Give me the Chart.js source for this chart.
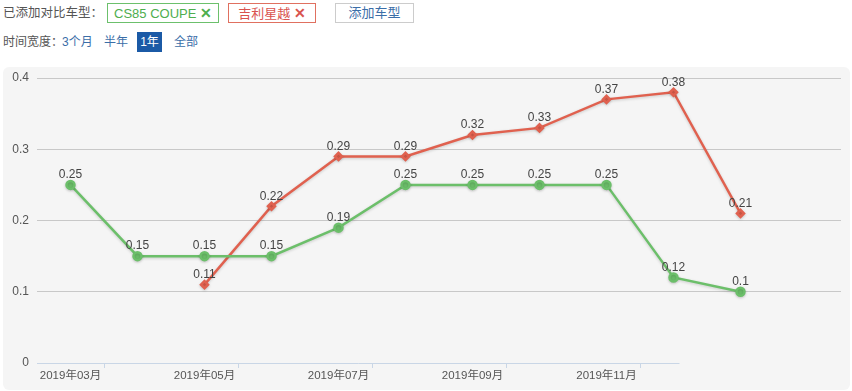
<!DOCTYPE html>
<html>
<head>
<meta charset="utf-8">
<script src="https://cdn.jsdelivr.net/npm/chart.js@4/dist/chart.umd.min.js"></script>
<style>
    body { margin: 0; background: #fff; font-family: "Liberation Sans", "Noto Sans CJK SC", sans-serif; width: 852px; height: 391px; overflow: hidden; position: relative; }
    .row1 { position: absolute; left: 3px; top: 3px; height: 20px; font-size: 12.5px; color: #555; }
    .row1 span { position: absolute; white-space: nowrap; line-height: 18px; }
    .tag { border: 1px solid; box-sizing: border-box; height: 20px; text-align: center; font-size: 13px; }
    .row2 { position: absolute; left: 3px; top: 32px; font-size: 12px; color: #555; }
    .row2 span { position: absolute; white-space: nowrap; line-height: 20px; top: 0; }
    .blue { color: #3b6ea8; }
    .panel { position: absolute; left: 3px; top: 67px; width: 847px; height: 323px; background: #f5f5f5; border-radius: 6px; }
</style>
</head>
<body>

<div class="row1">
    <span style="left:0;top:1px;">已添加对比车型：</span>
    <span class="tag" style="left:104px;top:0;width:112px;border-color:#6cc06c;color:#4eae4e;">CS85 COUPE <b style="font-weight:bold;font-size:14px;">✕</b></span>
    <span class="tag" style="left:225px;top:0;width:88px;border-color:#e07060;color:#d9534f;">吉利星越 <b style="font-weight:bold;font-size:14px;">✕</b></span>
    <span class="tag" style="left:332px;top:0;width:79px;border-color:#ccc;color:#3b6ea8;">添加车型</span>
</div>

<div class="row2">
    <span style="left:0;">时间宽度：</span>
    <span class="blue" style="left:59px;">3个月</span>
    <span class="blue" style="left:101px;">半年</span>
    <span style="left:134px;width:25px;text-align:center;background:#1b5aa6;color:#fff;">1年</span>
    <span class="blue" style="left:171px;">全部</span>
</div>

<div class="panel">
    <canvas id="chart" width="847" height="323"></canvas>
</div>

<script>
/* =====================================
   Chart data
===================================== */
const months = ["2019年03月", "2019年04月", "2019年05月", "2019年06月", "2019年07月", "2019年08月",
    "2019年09月", "2019年10月", "2019年11月", "2019年12月", "2020年01月", "2020年02月"];
const cs85Values = [0.25, 0.15, 0.15, 0.15, 0.19, 0.25, 0.25, 0.25, 0.25, 0.12, 0.1, null];
const xingyueValues = [null, null, 0.11, 0.22, 0.29, 0.29, 0.32, 0.33, 0.37, 0.38, 0.21, null];
const yTicks = [0, 0.1, 0.2, 0.3, 0.4];

const greenColor = "#6cbf6a";
const redColor = "#e0614f";


/* =====================================
   Plugins: value labels, shadow, axis line
===================================== */
const valueLabels = {
    id: "valueLabels",
    afterDatasetsDraw(chart) {
        const ctx = chart.ctx;
        ctx.save();
        ctx.font = "12px 'Liberation Sans', 'DejaVu Sans', sans-serif";
        ctx.fillStyle = "#444";
        ctx.textAlign = "center";
        ctx.textBaseline = "bottom";
        chart.data.datasets.forEach((ds, i) => {
            chart.getDatasetMeta(i).data.forEach((pt, j) => {
                if (ds.data[j] === null) return;
                ctx.fillText(String(ds.data[j]), pt.x, pt.y - 4);
            });
        });
        ctx.restore();
    }
};

const lineShadow = {
    id: "lineShadow",
    beforeDatasetDraw(chart) {
        chart.ctx.save();
        chart.ctx.shadowColor = "rgba(0,0,0,0.18)";
        chart.ctx.shadowBlur = 3;
        chart.ctx.shadowOffsetY = 1;
    },
    afterDatasetDraw(chart) {
        chart.ctx.restore();
    }
};

const axisLine = {
    id: "axisLine",
    beforeDatasetsDraw(chart) {
        const x = chart.scales.x;
        const y = chart.scales.y;
        const ctx = chart.ctx;
        const bottom = y.getPixelForValue(0);
        ctx.save();
        ctx.strokeStyle = "#c9d6e6";
        ctx.lineWidth = 1;
        ctx.beginPath();
        ctx.moveTo(chart.chartArea.left, bottom + 0.5);
        ctx.lineTo(x.getPixelForValue(9) + 6, bottom + 0.5);
        ctx.stroke();
        ctx.restore();
    }
};


/* =====================================
   Chart
===================================== */
new Chart(document.getElementById("chart"), {
    type: "line",
    data: {
        labels: months,
        datasets: [
            {
                label: "CS85 COUPE",
                data: cs85Values,
                borderColor: greenColor,
                backgroundColor: greenColor,
                borderWidth: 2.5,
                pointRadius: 4,
                pointStyle: "circle",
                tension: 0
            },
            {
                label: "吉利星越",
                data: xingyueValues,
                borderColor: redColor,
                backgroundColor: redColor,
                borderWidth: 2.5,
                pointRadius: 3.5,
                pointStyle: "rectRot",
                tension: 0
            }
        ]
    },
    options: {
        responsive: false,
        animation: false,
        devicePixelRatio: 1,
        layout: { padding: { top: 11, right: 9, left: 0, bottom: 0 } },
        plugins: {
            legend: { display: false },
            tooltip: { enabled: false }
        },
        scales: {
            x: {
                offset: true,
                border: { display: false },
                grid: {
                    offset: true,
                    drawOnChartArea: false,
                    drawTicks: true,
                    tickLength: 5,
                    tickColor: (c) => (c.index % 2 === 1 && c.index < 10) ? "#c9d6e6" : "rgba(0,0,0,0)"
                },
                ticks: {
                    autoSkip: false,
                    maxRotation: 0,
                    padding: 1,
                    color: "#555",
                    font: { size: 11.5, family: "'Liberation Sans', 'Noto Sans CJK SC', sans-serif" },
                    callback: function (value, index) {
                        return (index % 2 === 0 && index < 10) ? this.getLabelForValue(value) : "";
                    }
                },
                afterFit: (s) => { s.height = 27; }
            },
            y: {
                min: 0,
                max: 0.4,
                border: { display: false },
                grid: {
                    color: (c) => c.tick && c.tick.value === 0 ? "rgba(0,0,0,0)" : "#c8c8c8",
                    drawTicks: false
                },
                afterBuildTicks: (s) => { s.ticks = yTicks.map(v => ({ value: v })); },
                ticks: {
                    padding: 8,
                    color: "#555",
                    font: { size: 12, family: "'Liberation Sans', sans-serif" },
                    callback: (v) => String(v)
                },
                afterFit: (s) => { s.width = 34; s.paddingTop = 0; }
            }
        }
    },
    plugins: [axisLine, lineShadow, valueLabels]
});
</script>
</body>
</html>
